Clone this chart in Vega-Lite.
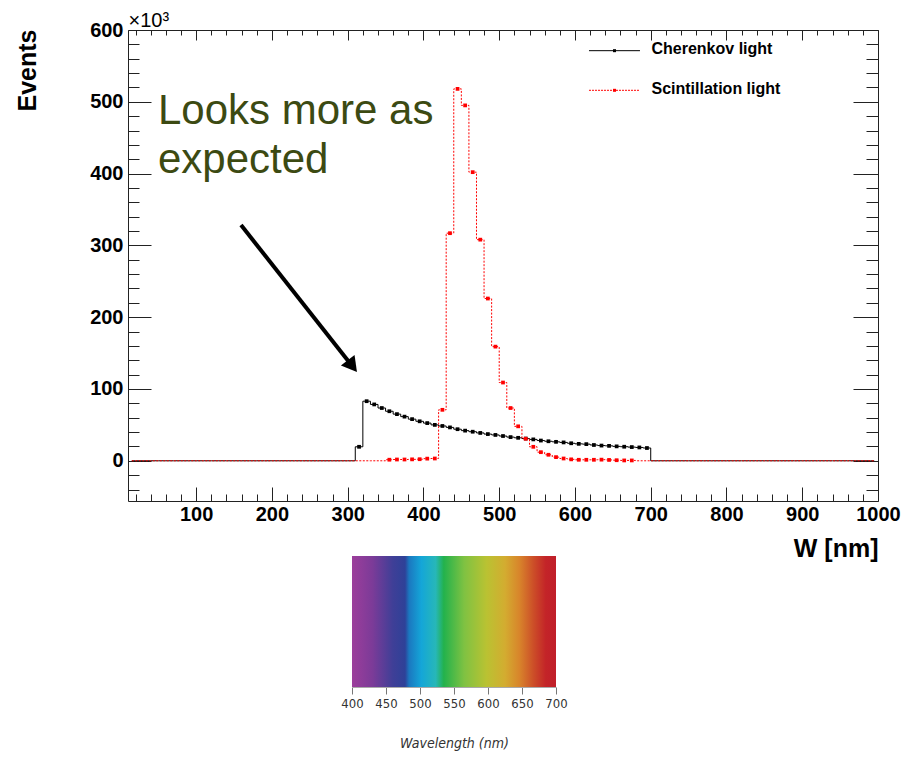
{
  "$schema": "https://vega.github.io/schema/vega-lite/v6.json",
  "width": 750,
  "height": 471,
  "autosize": {"type": "none"},
  "padding": {"left": 128, "top": 30, "right": 26, "bottom": 258},
  "background": "white",
  "config": {
    "view": {"stroke": "#222", "strokeWidth": 1},
    "font": "Liberation Sans",
    "axis": {"grid": false, "domain": false, "labelFlush": false, "labelOverlap": false, "tickColor": "#222", "labelColor": "black", "titleColor": "black", "tickWidth": 1}
  },
  "datasets": {
    "hist": [
      {"series": "Cherenkov light", "w": 15, "events": 0}, {"series": "Cherenkov light", "w": 25, "events": 0}, {"series": "Cherenkov light", "w": 35, "events": 0}, {"series": "Cherenkov light", "w": 45, "events": 0}, {"series": "Cherenkov light", "w": 55, "events": 0},
      {"series": "Cherenkov light", "w": 65, "events": 0}, {"series": "Cherenkov light", "w": 75, "events": 0}, {"series": "Cherenkov light", "w": 85, "events": 0}, {"series": "Cherenkov light", "w": 95, "events": 0}, {"series": "Cherenkov light", "w": 105, "events": 0},
      {"series": "Cherenkov light", "w": 115, "events": 0}, {"series": "Cherenkov light", "w": 125, "events": 0}, {"series": "Cherenkov light", "w": 135, "events": 0}, {"series": "Cherenkov light", "w": 145, "events": 0}, {"series": "Cherenkov light", "w": 155, "events": 0},
      {"series": "Cherenkov light", "w": 165, "events": 0}, {"series": "Cherenkov light", "w": 175, "events": 0}, {"series": "Cherenkov light", "w": 185, "events": 0}, {"series": "Cherenkov light", "w": 195, "events": 0}, {"series": "Cherenkov light", "w": 205, "events": 0},
      {"series": "Cherenkov light", "w": 215, "events": 0}, {"series": "Cherenkov light", "w": 225, "events": 0}, {"series": "Cherenkov light", "w": 235, "events": 0}, {"series": "Cherenkov light", "w": 245, "events": 0}, {"series": "Cherenkov light", "w": 255, "events": 0},
      {"series": "Cherenkov light", "w": 265, "events": 0}, {"series": "Cherenkov light", "w": 275, "events": 0}, {"series": "Cherenkov light", "w": 285, "events": 0}, {"series": "Cherenkov light", "w": 295, "events": 0}, {"series": "Cherenkov light", "w": 305, "events": 0},
      {"series": "Cherenkov light", "w": 315, "events": 19500}, {"series": "Cherenkov light", "w": 325, "events": 83000}, {"series": "Cherenkov light", "w": 335, "events": 78500}, {"series": "Cherenkov light", "w": 345, "events": 73500}, {"series": "Cherenkov light", "w": 355, "events": 69000},
      {"series": "Cherenkov light", "w": 365, "events": 65000}, {"series": "Cherenkov light", "w": 375, "events": 61500}, {"series": "Cherenkov light", "w": 385, "events": 58000}, {"series": "Cherenkov light", "w": 395, "events": 55000}, {"series": "Cherenkov light", "w": 405, "events": 52500},
      {"series": "Cherenkov light", "w": 415, "events": 50000}, {"series": "Cherenkov light", "w": 425, "events": 48500}, {"series": "Cherenkov light", "w": 435, "events": 46500}, {"series": "Cherenkov light", "w": 445, "events": 44000}, {"series": "Cherenkov light", "w": 455, "events": 42000},
      {"series": "Cherenkov light", "w": 465, "events": 40500}, {"series": "Cherenkov light", "w": 475, "events": 38800}, {"series": "Cherenkov light", "w": 485, "events": 37200}, {"series": "Cherenkov light", "w": 495, "events": 36000}, {"series": "Cherenkov light", "w": 505, "events": 34500},
      {"series": "Cherenkov light", "w": 515, "events": 33000}, {"series": "Cherenkov light", "w": 525, "events": 32000}, {"series": "Cherenkov light", "w": 535, "events": 31000}, {"series": "Cherenkov light", "w": 545, "events": 29800}, {"series": "Cherenkov light", "w": 555, "events": 28200},
      {"series": "Cherenkov light", "w": 565, "events": 27200}, {"series": "Cherenkov light", "w": 575, "events": 26400}, {"series": "Cherenkov light", "w": 585, "events": 25600}, {"series": "Cherenkov light", "w": 595, "events": 24400}, {"series": "Cherenkov light", "w": 605, "events": 23600},
      {"series": "Cherenkov light", "w": 615, "events": 23200}, {"series": "Cherenkov light", "w": 625, "events": 22000}, {"series": "Cherenkov light", "w": 635, "events": 21200}, {"series": "Cherenkov light", "w": 645, "events": 20800}, {"series": "Cherenkov light", "w": 655, "events": 20100},
      {"series": "Cherenkov light", "w": 665, "events": 19600}, {"series": "Cherenkov light", "w": 675, "events": 19100}, {"series": "Cherenkov light", "w": 685, "events": 18600}, {"series": "Cherenkov light", "w": 695, "events": 17800}, {"series": "Cherenkov light", "w": 705, "events": 0},
      {"series": "Cherenkov light", "w": 715, "events": 0}, {"series": "Cherenkov light", "w": 725, "events": 0}, {"series": "Cherenkov light", "w": 735, "events": 0}, {"series": "Cherenkov light", "w": 745, "events": 0}, {"series": "Cherenkov light", "w": 755, "events": 0},
      {"series": "Cherenkov light", "w": 765, "events": 0}, {"series": "Cherenkov light", "w": 775, "events": 0}, {"series": "Cherenkov light", "w": 785, "events": 0}, {"series": "Cherenkov light", "w": 795, "events": 0}, {"series": "Cherenkov light", "w": 805, "events": 0},
      {"series": "Cherenkov light", "w": 815, "events": 0}, {"series": "Cherenkov light", "w": 825, "events": 0}, {"series": "Cherenkov light", "w": 835, "events": 0}, {"series": "Cherenkov light", "w": 845, "events": 0}, {"series": "Cherenkov light", "w": 855, "events": 0},
      {"series": "Cherenkov light", "w": 865, "events": 0}, {"series": "Cherenkov light", "w": 875, "events": 0}, {"series": "Cherenkov light", "w": 885, "events": 0}, {"series": "Cherenkov light", "w": 895, "events": 0}, {"series": "Cherenkov light", "w": 905, "events": 0},
      {"series": "Cherenkov light", "w": 915, "events": 0}, {"series": "Cherenkov light", "w": 925, "events": 0}, {"series": "Cherenkov light", "w": 935, "events": 0}, {"series": "Cherenkov light", "w": 945, "events": 0}, {"series": "Cherenkov light", "w": 955, "events": 0},
      {"series": "Cherenkov light", "w": 965, "events": 0}, {"series": "Cherenkov light", "w": 975, "events": 0}, {"series": "Cherenkov light", "w": 985, "events": 0}, {"series": "Cherenkov light", "w": 995, "events": 0},

      {"series": "Scintillation light", "w": 15, "events": 0}, {"series": "Scintillation light", "w": 25, "events": 0}, {"series": "Scintillation light", "w": 35, "events": 0}, {"series": "Scintillation light", "w": 45, "events": 0}, {"series": "Scintillation light", "w": 55, "events": 0},
      {"series": "Scintillation light", "w": 65, "events": 0}, {"series": "Scintillation light", "w": 75, "events": 0}, {"series": "Scintillation light", "w": 85, "events": 0}, {"series": "Scintillation light", "w": 95, "events": 0}, {"series": "Scintillation light", "w": 105, "events": 0},
      {"series": "Scintillation light", "w": 115, "events": 0}, {"series": "Scintillation light", "w": 125, "events": 0}, {"series": "Scintillation light", "w": 135, "events": 0}, {"series": "Scintillation light", "w": 145, "events": 0}, {"series": "Scintillation light", "w": 155, "events": 0},
      {"series": "Scintillation light", "w": 165, "events": 0}, {"series": "Scintillation light", "w": 175, "events": 0}, {"series": "Scintillation light", "w": 185, "events": 0}, {"series": "Scintillation light", "w": 195, "events": 0}, {"series": "Scintillation light", "w": 205, "events": 0},
      {"series": "Scintillation light", "w": 215, "events": 0}, {"series": "Scintillation light", "w": 225, "events": 0}, {"series": "Scintillation light", "w": 235, "events": 0}, {"series": "Scintillation light", "w": 245, "events": 0}, {"series": "Scintillation light", "w": 255, "events": 0},
      {"series": "Scintillation light", "w": 265, "events": 0}, {"series": "Scintillation light", "w": 275, "events": 0}, {"series": "Scintillation light", "w": 285, "events": 0}, {"series": "Scintillation light", "w": 295, "events": 0}, {"series": "Scintillation light", "w": 305, "events": 0},
      {"series": "Scintillation light", "w": 315, "events": 0}, {"series": "Scintillation light", "w": 325, "events": 0}, {"series": "Scintillation light", "w": 335, "events": 0}, {"series": "Scintillation light", "w": 345, "events": 0}, {"series": "Scintillation light", "w": 355, "events": 1500},
      {"series": "Scintillation light", "w": 365, "events": 1800}, {"series": "Scintillation light", "w": 375, "events": 1800}, {"series": "Scintillation light", "w": 385, "events": 2000}, {"series": "Scintillation light", "w": 395, "events": 2200}, {"series": "Scintillation light", "w": 405, "events": 3000},
      {"series": "Scintillation light", "w": 415, "events": 3200}, {"series": "Scintillation light", "w": 425, "events": 71000}, {"series": "Scintillation light", "w": 435, "events": 317000}, {"series": "Scintillation light", "w": 445, "events": 518000}, {"series": "Scintillation light", "w": 455, "events": 495000},
      {"series": "Scintillation light", "w": 465, "events": 402000}, {"series": "Scintillation light", "w": 475, "events": 308000}, {"series": "Scintillation light", "w": 485, "events": 226000}, {"series": "Scintillation light", "w": 495, "events": 159000}, {"series": "Scintillation light", "w": 505, "events": 109000},
      {"series": "Scintillation light", "w": 515, "events": 73500}, {"series": "Scintillation light", "w": 525, "events": 48000}, {"series": "Scintillation light", "w": 535, "events": 30700}, {"series": "Scintillation light", "w": 545, "events": 19500}, {"series": "Scintillation light", "w": 555, "events": 12000},
      {"series": "Scintillation light", "w": 565, "events": 8400}, {"series": "Scintillation light", "w": 575, "events": 5100}, {"series": "Scintillation light", "w": 585, "events": 3200}, {"series": "Scintillation light", "w": 595, "events": 2000}, {"series": "Scintillation light", "w": 605, "events": 1400},
      {"series": "Scintillation light", "w": 615, "events": 1400}, {"series": "Scintillation light", "w": 625, "events": 1400}, {"series": "Scintillation light", "w": 635, "events": 1600}, {"series": "Scintillation light", "w": 645, "events": 1200}, {"series": "Scintillation light", "w": 655, "events": 800},
      {"series": "Scintillation light", "w": 665, "events": 500}, {"series": "Scintillation light", "w": 675, "events": 500}, {"series": "Scintillation light", "w": 685, "events": 0}, {"series": "Scintillation light", "w": 695, "events": 0}, {"series": "Scintillation light", "w": 705, "events": 0},
      {"series": "Scintillation light", "w": 715, "events": 0}, {"series": "Scintillation light", "w": 725, "events": 0}, {"series": "Scintillation light", "w": 735, "events": 0}, {"series": "Scintillation light", "w": 745, "events": 0}, {"series": "Scintillation light", "w": 755, "events": 0},
      {"series": "Scintillation light", "w": 765, "events": 0}, {"series": "Scintillation light", "w": 775, "events": 0}, {"series": "Scintillation light", "w": 785, "events": 0}, {"series": "Scintillation light", "w": 795, "events": 0}, {"series": "Scintillation light", "w": 805, "events": 0},
      {"series": "Scintillation light", "w": 815, "events": 0}, {"series": "Scintillation light", "w": 825, "events": 0}, {"series": "Scintillation light", "w": 835, "events": 0}, {"series": "Scintillation light", "w": 845, "events": 0}, {"series": "Scintillation light", "w": 855, "events": 0},
      {"series": "Scintillation light", "w": 865, "events": 0}, {"series": "Scintillation light", "w": 875, "events": 0}, {"series": "Scintillation light", "w": 885, "events": 0}, {"series": "Scintillation light", "w": 895, "events": 0}, {"series": "Scintillation light", "w": 905, "events": 0},
      {"series": "Scintillation light", "w": 915, "events": 0}, {"series": "Scintillation light", "w": 925, "events": 0}, {"series": "Scintillation light", "w": 935, "events": 0}, {"series": "Scintillation light", "w": 945, "events": 0}, {"series": "Scintillation light", "w": 955, "events": 0},
      {"series": "Scintillation light", "w": 965, "events": 0}, {"series": "Scintillation light", "w": 975, "events": 0}, {"series": "Scintillation light", "w": 985, "events": 0}, {"series": "Scintillation light", "w": 995, "events": 0}
    ]
  },
  "resolve": {"scale": {"x": "independent"}, "axis": {"x": "independent", "y": "independent"}},
  "layer": [
    {
      "resolve": {"axis": {"x": "independent", "y": "independent"}},
      "layer": [
        {
          "data": {"name": "hist"},
          "transform": [{"filter": "datum.series === 'Cherenkov light'"}],
          "mark": {"type": "line", "interpolate": "step", "color": "black", "strokeWidth": 1},
          "encoding": {
            "x": {"field": "w", "type": "quantitative",
                  "scale": {"domain": [10, 1000], "nice": false, "zero": false},
                  "axis": {"orient": "bottom", "values": [100, 200, 300, 400, 500, 600, 700, 800, 900, 1000], "format": "d",
                           "ticks": false, "tickSize": 0, "labelFontSize": 20, "labelFontWeight": "bold", "labelPadding": 3,
                           "title": "W [nm]", "titleFontSize": 25, "titleFontWeight": "bold",
                           "titleAlign": "right", "titleBaseline": "alphabetic", "titleX": 750, "titleY": 55}},
            "y": {"field": "events", "type": "quantitative",
                  "scale": {"domain": [-56000, 600000], "nice": false, "zero": false},
                  "axis": {"orient": "left", "values": [0, 100000, 200000, 300000, 400000, 500000, 600000],
                           "labelExpr": "format(datum.value / 1000, 'd')",
                           "ticks": false, "tickSize": 0, "labelFontSize": 20, "labelFontWeight": "bold", "labelPadding": 5,
                           "title": "Events", "titleFontSize": 25, "titleFontWeight": "bold", "titleAngle": 270,
                           "titleAlign": "center", "titleBaseline": "alphabetic", "titleX": -93, "titleY": 40}}
          }
        },
        {
          "data": {"name": "hist"},
          "transform": [{"filter": "datum.series === 'Scintillation light'"}],
          "mark": {"type": "line", "interpolate": "step", "color": "#ff0000", "strokeWidth": 1, "strokeDash": [2, 1.5]},
          "encoding": {
            "x": {"field": "w", "type": "quantitative",
                  "axis": {"orient": "bottom", "values": [100, 200, 300, 400, 500, 600, 700, 800, 900, 1000],
                           "labels": false, "tickSize": -14, "title": null}},
            "y": {"field": "events", "type": "quantitative",
                  "axis": {"orient": "left", "values": [0, 100000, 200000, 300000, 400000, 500000, 600000],
                           "labels": false, "tickSize": -23, "title": null}}
          }
        },
        {
          "data": {"name": "hist"},
          "transform": [{"filter": "datum.series === 'Cherenkov light' && datum.events > 0"}],
          "mark": {"type": "point", "shape": "square", "filled": true, "size": 14, "color": "black", "opacity": 1},
          "encoding": {
            "x": {"field": "w", "type": "quantitative",
                  "axis": {"orient": "bottom", "values": [20, 40, 60, 80, 120, 140, 160, 180, 220, 240, 260, 280, 320, 340, 360, 380, 420, 440, 460, 480, 520, 540, 560, 580, 620, 640, 660, 680, 720, 740, 760, 780, 820, 840, 860, 880, 920, 940, 960, 980],
                           "labels": false, "tickSize": -7, "title": null}},
            "y": {"field": "events", "type": "quantitative",
                  "axis": {"orient": "left", "values": [-40000, -20000, 20000, 40000, 60000, 80000, 120000, 140000, 160000, 180000, 220000, 240000, 260000, 280000, 320000, 340000, 360000, 380000, 420000, 440000, 460000, 480000, 520000, 540000, 560000, 580000],
                           "labels": false, "tickSize": -11, "title": null}}
          }
        },
        {
          "data": {"name": "hist"},
          "transform": [{"filter": "datum.series === 'Scintillation light' && datum.events > 0"}],
          "mark": {"type": "point", "shape": "square", "filled": true, "size": 14, "color": "#ff0000", "opacity": 1},
          "encoding": {
            "x": {"field": "w", "type": "quantitative",
                  "axis": {"orient": "top", "values": [100, 200, 300, 400, 500, 600, 700, 800, 900, 1000],
                           "labels": false, "tickSize": -10,
                           "title": "×10³", "titleFontSize": 20, "titleFontWeight": "normal",
                           "titleAlign": "left", "titleBaseline": "alphabetic", "titleX": 0, "titleY": -4}},
            "y": {"field": "events", "type": "quantitative",
                  "axis": {"orient": "right", "values": [0, 100000, 200000, 300000, 400000, 500000, 600000],
                           "labels": false, "tickSize": -25, "title": null}}
          }
        },
        {
          "data": {"values": [{}]},
          "mark": {"type": "rule", "color": "black", "strokeWidth": 4, "strokeCap": "butt"},
          "encoding": {
            "x": {"datum": 159.2, "type": "quantitative",
                  "axis": {"orient": "top", "values": [20, 40, 60, 80, 120, 140, 160, 180, 220, 240, 260, 280, 320, 340, 360, 380, 420, 440, 460, 480, 520, 540, 560, 580, 620, 640, 660, 680, 720, 740, 760, 780, 820, 840, 860, 880, 920, 940, 960, 980],
                           "labels": false, "tickSize": -5, "title": null}},
            "x2": {"datum": 304.1},
            "y": {"datum": 328400, "type": "quantitative",
                  "axis": {"orient": "right", "values": [-40000, -20000, 20000, 40000, 60000, 80000, 120000, 140000, 160000, 180000, 220000, 240000, 260000, 280000, 320000, 340000, 360000, 380000, 420000, 440000, 460000, 480000, 520000, 540000, 560000, 580000],
                           "labels": false, "tickSize": -12, "title": null}},
            "y2": {"datum": 134500}
          }
        },
        {
          "data": {"values": [{}]},
          "mark": {"type": "point", "shape": "triangle", "filled": true, "size": 300, "angle": 142, "color": "black", "opacity": 1},
          "encoding": {
            "x": {"datum": 304.1, "type": "quantitative", "axis": null},
            "y": {"datum": 134500, "type": "quantitative", "axis": null}
          }
        },
        {
          "data": {"values": [{}]},
          "mark": {"type": "text", "text": "Looks more as\nexpected", "lineBreak": "\n", "align": "left", "baseline": "alphabetic",
                   "font": "Liberation Sans", "fontSize": 42, "lineHeight": 49, "color": "#3c4a12"},
          "encoding": {
            "x": {"datum": 49.6, "type": "quantitative", "axis": null},
            "y": {"datum": 469000, "type": "quantitative", "axis": null}
          }
        },
        {
          "data": {"values": [{}]},
          "mark": {"type": "rule", "color": "black", "strokeWidth": 1},
          "encoding": {
            "x": {"datum": 618.5, "type": "quantitative", "axis": null},
            "x2": {"datum": 685.8},
            "y": {"datum": 571200, "type": "quantitative", "axis": null}
          }
        },
        {
          "data": {"values": [{}]},
          "mark": {"type": "point", "shape": "square", "filled": true, "size": 9, "color": "black", "opacity": 1},
          "encoding": {
            "x": {"datum": 652.2, "type": "quantitative", "axis": null},
            "y": {"datum": 571200, "type": "quantitative", "axis": null}
          }
        },
        {
          "data": {"values": [{}]},
          "mark": {"type": "text", "text": "Cherenkov light", "align": "left", "baseline": "alphabetic",
                   "font": "Liberation Sans", "fontSize": 16, "fontWeight": "bold", "color": "black"},
          "encoding": {
            "x": {"datum": 701, "type": "quantitative", "axis": null},
            "y": {"datum": 566200, "type": "quantitative", "axis": null}
          }
        },
        {
          "data": {"values": [{}]},
          "mark": {"type": "rule", "color": "#ff0000", "strokeWidth": 1, "strokeDash": [2, 1]},
          "encoding": {
            "x": {"datum": 618.5, "type": "quantitative", "axis": null},
            "x2": {"datum": 685.8},
            "y": {"datum": 516000, "type": "quantitative", "axis": null}
          }
        },
        {
          "data": {"values": [{}]},
          "mark": {"type": "point", "shape": "square", "filled": true, "size": 9, "color": "#ff0000", "opacity": 1},
          "encoding": {
            "x": {"datum": 652.2, "type": "quantitative", "axis": null},
            "y": {"datum": 516000, "type": "quantitative", "axis": null}
          }
        },
        {
          "data": {"values": [{}]},
          "mark": {"type": "text", "text": "Scintillation light", "align": "left", "baseline": "alphabetic",
                   "font": "Liberation Sans", "fontSize": 16, "fontWeight": "bold", "color": "black"},
          "encoding": {
            "x": {"datum": 701, "type": "quantitative", "axis": null},
            "y": {"datum": 510900, "type": "quantitative", "axis": null}
          }
        }
      ]
    },
    {
      "data": {"values": [{}]},
      "mark": {
        "type": "rect",
        "color": {
          "gradient": "linear", "x1": 0, "y1": 0, "x2": 1, "y2": 0,
          "stops": [
            {"offset": 0.0, "color": "#9c3e9b"},
            {"offset": 0.1, "color": "#7c3b98"},
            {"offset": 0.2, "color": "#3f3f97"},
            {"offset": 0.26, "color": "#2e4198"},
            {"offset": 0.28, "color": "#1b78c0"},
            {"offset": 0.34, "color": "#14a6d8"},
            {"offset": 0.41, "color": "#27b7b8"},
            {"offset": 0.45, "color": "#23b24c"},
            {"offset": 0.55, "color": "#7fc242"},
            {"offset": 0.66, "color": "#bac232"},
            {"offset": 0.75, "color": "#d3ac30"},
            {"offset": 0.82, "color": "#d8852b"},
            {"offset": 0.89, "color": "#cc4e28"},
            {"offset": 0.95, "color": "#c32428"},
            {"offset": 1.0, "color": "#c01f2a"}
          ]
        }
      },
      "encoding": {
        "x": {"datum": 400, "type": "quantitative",
              "scale": {"domain": [400, 700], "range": [224, 428], "nice": false, "zero": false},
              "axis": {"orient": "bottom", "offset": 186, "values": [400, 450, 500, 550, 600, 650, 700],
                       "domain": true, "domainColor": "#aaaaaa", "tickColor": "#777777", "tickSize": 7,
                       "labelFont": "DejaVu Sans Condensed, Liberation Sans Narrow, sans-serif", "labelFontSize": 13, "labelColor": "#333333", "labelPadding": 3,
                       "title": "Wavelength (nm)", "titleFont": "DejaVu Sans Condensed, Liberation Sans Narrow, sans-serif",
                       "titleFontStyle": "italic", "titleFontWeight": "normal", "titleFontSize": 14, "titleColor": "#333333", "titlePadding": 26}},
        "x2": {"datum": 700},
        "y": {"datum": -132500, "type": "quantitative",
              "scale": {"domain": [-56000, 600000], "nice": false, "zero": false}, "axis": null},
        "y2": {"datum": -315000}
      }
    }
  ]
}
